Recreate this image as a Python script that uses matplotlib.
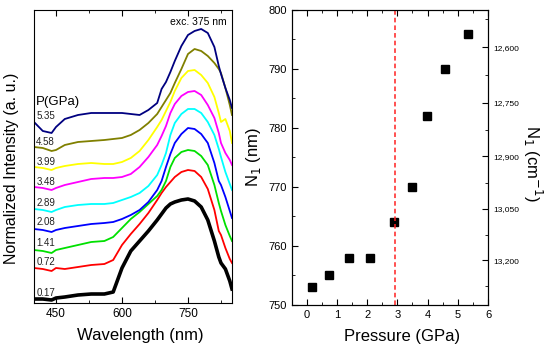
import numpy as np
import matplotlib.pyplot as plt
from matplotlib.ticker import MultipleLocator, FixedLocator

plt.rcParams['font.family'] = ['Liberation Sans', 'DejaVu Sans']

# wavelength nodes (nm)
wl = [400, 420, 440, 450, 470, 500, 530, 560, 580, 600, 620, 640, 660, 680, 690,
      700, 710, 720, 735, 750, 765, 780, 795, 810, 820, 825, 835, 845, 850]

# offset normalized intensities (arbitrary units) for each pressure
s_017 = [4, 4, 3, 5, 6, 8, 9, 9, 11, 35, 52, 62, 72, 83, 89,
         95, 99, 101, 103, 104, 102, 96, 83, 62, 46, 40, 34, 22, 14]
s_072 = [35, 34, 32, 35, 34, 36, 38, 39, 43, 58, 69, 79, 90, 103, 110,
         116, 121, 126, 131, 133, 132, 126, 114, 93, 72, 68, 55, 44, 40]
s_141 = [53, 52, 50, 53, 55, 58, 61, 62, 66, 75, 84, 91, 99, 107, 113,
         122, 136, 145, 151, 153, 152, 147, 138, 118, 100, 92, 78, 67, 62]
s_208 = [74, 73, 71, 73, 75, 77, 79, 80, 81, 84, 88, 93, 101, 113, 122,
         136, 149, 160, 169, 175, 174, 169, 160, 140, 122, 118, 106, 92, 85]
s_289 = [94, 93, 91, 93, 96, 98, 99, 99, 100, 103, 106, 110, 117, 128, 138,
         150, 168, 180, 189, 194, 194, 190, 181, 168, 154, 146, 131, 119, 113]
s_348 = [116, 115, 113, 115, 118, 121, 124, 125, 125, 126, 129, 136, 146, 158, 167,
         177, 190, 199, 207, 211, 212, 208, 198, 185, 170, 160, 150, 143, 138]
s_399 = [136, 135, 133, 135, 137, 139, 140, 139, 139, 141, 145, 152, 163, 176, 183,
         192, 201, 212, 225, 232, 233, 228, 220, 206, 190, 181, 184, 172, 160]
s_458 = [156, 155, 152, 153, 158, 161, 162, 163, 164, 165, 168, 173, 180, 189, 196,
         203, 210, 220, 234, 249, 254, 252, 247, 240, 234, 230, 215, 198, 188]
s_535 = [181, 172, 170, 176, 184, 188, 190, 190, 190, 190, 189, 188, 193, 200, 214,
         221, 231, 242, 257, 268, 272, 274, 270, 256, 237, 229, 215, 203, 195]

spectra = [s_017, s_072, s_141, s_208, s_289, s_348, s_399, s_458, s_535]
p_labels = ['0.17', '0.72', '1.41', '2.08', '2.89', '3.48', '3.99', '4.58', '5.35']
label_h = [10, 41, 60, 81, 100, 121, 141, 161, 187]
colors = ['black', '#ff0000', '#00e000', '#0000ff', '#00ffff', '#ff00ff',
          '#ffff00', '#808000', '#000080']

# peak position vs pressure
pressure = [0.17, 0.72, 1.41, 2.08, 2.89, 3.48, 3.99, 4.58, 5.35]
n1_nm = [753, 755, 758, 758, 764, 770, 782, 790, 796]
p_transition = 2.93

wn_major = [12600, 12750, 12900, 13050, 13200]
wn_minor = [12525, 12675, 12825, 12975, 13125, 13275]

fig = plt.figure(figsize=(5.5, 3.48), dpi=100)
ax1 = fig.add_axes([0.0618, 0.1293, 0.36, 0.842])
ax2 = fig.add_axes([0.5303, 0.1236, 0.357, 0.8477])

# left: spectra
for s, c in zip(spectra, colors):
    lw = 2.6 if c == 'black' else 1.3
    ax1.plot(wl, s, color=c, lw=lw)
for t, h in zip(p_labels, label_h):
    ax1.text(405, h, t, fontsize=7, va='center', ha='left', color='#222222')
ax1.text(405, 201, 'P(GPa)', fontsize=9.5, va='center', ha='left')
ax1.text(838, 281, 'exc. 375 nm', fontsize=7.5, va='center', ha='right')

ax1.set_xlim(400, 850)
ax1.set_ylim(0, 293)
ax1.set_yticks([])
ax1.xaxis.set_major_locator(FixedLocator([450, 600, 750]))
ax1.xaxis.set_minor_locator(FixedLocator([525, 675, 825]))
ax1.tick_params(axis='x', which='both', direction='in', top=True, labelsize=8.5)
ax1.tick_params(axis='x', which='major', length=4)
ax1.tick_params(axis='x', which='minor', length=2.5)
ax1.set_xlabel('Wavelength (nm)', fontsize=12)
ax1.xaxis.set_label_coords(0.535, -0.085)
ax1.set_ylabel('Normalized Intensity (a. u.)', fontsize=11.5)
ax1.yaxis.set_label_coords(-0.076, 0.46)

# right: N1 vs pressure
ax2.plot(pressure, n1_nm, 's', color='black', ms=6)
ax2.axvline(p_transition, color='#ff2020', ls='--', lw=1.1, dashes=(3, 2))
ax2.set_xlim(-0.5, 6)
ax2.set_ylim(750, 800)
ax2.xaxis.set_major_locator(MultipleLocator(1))
ax2.xaxis.set_minor_locator(MultipleLocator(0.5))
ax2.yaxis.set_major_locator(MultipleLocator(10))
ax2.yaxis.set_minor_locator(MultipleLocator(5))
ax2.tick_params(which='both', direction='in', top=True, labelsize=8)
ax2.tick_params(which='major', length=4)
ax2.tick_params(which='minor', length=2.5)
ax2.set_xlabel('Pressure (GPa)', fontsize=12)
ax2.xaxis.set_label_coords(0.56, -0.08)
ax2.set_ylabel('N$_1$ (nm)', fontsize=12)
ax2.yaxis.set_label_coords(-0.146, 0.5)

ax3 = ax2.twinx()
ax3.set_ylim(750, 800)
ax3.set_yticks([1e7 / v for v in wn_major])
ax3.set_yticklabels(['{:,}'.format(v) for v in wn_major])
ax3.set_yticks([1e7 / v for v in wn_minor], minor=True)
ax3.tick_params(which='both', direction='in', labelsize=6)
ax3.tick_params(which='major', length=4)
ax3.tick_params(which='minor', length=2.5)
ax3.set_ylabel('N$_1$ (cm$^{-1}$)', fontsize=12, rotation=270)
ax3.yaxis.set_label_coords(1.285, 0.48)

plt.savefig('out.png', dpi=100)
